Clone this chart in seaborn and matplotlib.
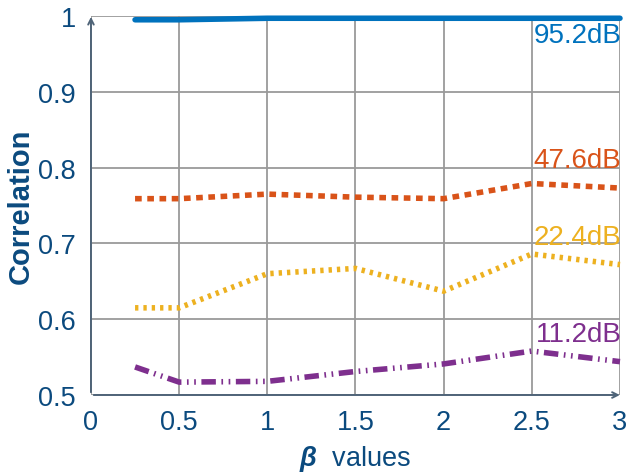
import matplotlib
matplotlib.use("Agg")
import matplotlib.pyplot as plt
import seaborn as sns
import pandas as pd

beta = [0.25, 0.5, 1, 1.5, 2, 2.5, 3]
corr_95 = [0.995, 0.995, 0.997, 0.997, 0.997, 0.997, 0.997]
corr_47 = [0.759, 0.759, 0.765, 0.761, 0.759, 0.779, 0.773]
corr_22 = [0.615, 0.615, 0.660, 0.667, 0.637, 0.686, 0.672]
corr_11 = [0.537, 0.517, 0.518, 0.531, 0.541, 0.558, 0.544]
labels = ["95.2dB", "47.6dB", "22.4dB", "11.2dB"]
x_ticks = [0, 0.5, 1, 1.5, 2, 2.5, 3]
x_ticklabels = ["0", "0.5", "1", "1.5", "2", "2.5", "3"]
y_ticks = [0.5, 0.6, 0.7, 0.8, 0.9, 1.0]
y_ticklabels = ["0.5", "0.6", "0.7", "0.8", "0.9", "1"]

sns.set_style("white")
plt.rcParams['font.family'] = ['Liberation Sans', 'DejaVu Sans']
plt.rcParams['mathtext.fontset'] = 'custom'
plt.rcParams['mathtext.bfit'] = 'Liberation Sans:bold:italic'
plt.rcParams['mathtext.bf'] = 'Liberation Sans:bold'
plt.rcParams['mathtext.it'] = 'Liberation Sans:italic'
plt.rcParams['mathtext.rm'] = 'Liberation Sans'

txt = "#0B4A7E"
colors = ["#0072BD", "#D95319", "#EDB120", "#7E2F8E"]
styles = ["-", (0, (1.2, 1.0)), (0, (0.6, 0.9)), (0, (2.6, 1.0, 0.3, 1.0, 0.3, 1.0))]
series = [corr_95, corr_47, corr_22, corr_11]
offsets = [-3, 15, 15, 15]

fig = plt.figure(figsize=(6.3, 4.77), dpi=100)
ax = fig.add_axes([0.1444, 0.1698, 0.9841 - 0.1444, 0.9644 - 0.1698])

for vals, c, ls, lab, off in zip(series, colors, styles, labels, offsets):
    df = pd.DataFrame({"beta": beta, "corr": vals})
    sns.lineplot(data=df, x="beta", y="corr", ax=ax, color=c, linewidth=4.0,
                 linestyle=ls, clip_on=False, zorder=3)
    ax.annotate(lab, xy=(3, vals[-1]), xytext=(1, off), textcoords="offset points",
                color=c, fontsize=20, ha="right", va="baseline" if off > 0 else "top",
                zorder=4, annotation_clip=False)

ax.set_xlim(0, 3)
ax.set_ylim(0.5, 1.0)
ax.set_xticks(x_ticks)
ax.set_xticklabels(x_ticklabels)
ax.set_yticks(y_ticks)
ax.set_yticklabels(y_ticklabels)
ax.grid(True, color="#9a9a9a", linewidth=1.3)
ax.tick_params(axis="both", direction="inout", length=8, width=1.2, color="#8a8a8a",
               labelsize=19.5, labelcolor=txt)
ax.tick_params(axis="x", pad=6)
ax.tick_params(axis="y", pad=7)
for s in ax.spines.values():
    s.set_visible(False)

ax.annotate("", xy=(1.005, 0), xytext=(0, 0), xycoords="axes fraction",
            arrowprops=dict(arrowstyle="->", color="#4f6478", lw=1.4), zorder=5)
ax.annotate("", xy=(0, 1.005), xytext=(0, 0), xycoords="axes fraction",
            arrowprops=dict(arrowstyle="->", color="#4f6478", lw=1.4), zorder=5)

ax.set_xlabel(r"$\boldsymbol{\beta}$  values", fontsize=19.5, color=txt, labelpad=6)
ax.set_ylabel("Correlation", fontsize=21, color=txt, fontweight="bold", labelpad=2)

fig.savefig("out.png", dpi=100)
